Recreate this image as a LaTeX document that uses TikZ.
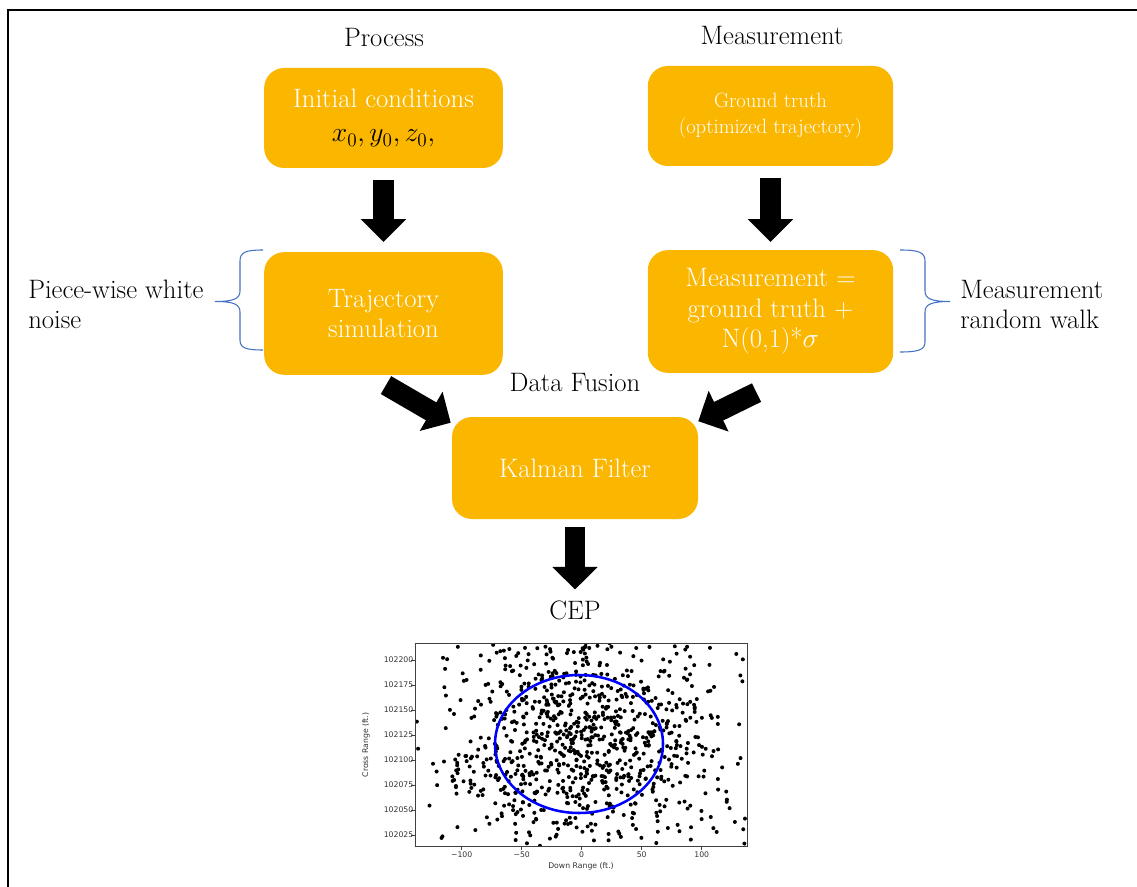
\documentclass[tikz,border=0pt]{standalone}
\usepackage{fontspec}
\newfontfamily\plotfont{DejaVu Sans}
\usetikzlibrary{arrows.meta}
\definecolor{boxgold}{RGB}{251,182,0}
\definecolor{bracecol}{RGB}{68,114,196}
\definecolor{cepblue}{RGB}{0,0,255}
\tikzset{
  box/.style = {rounded corners=15pt, fill=boxgold, text=white, align=center, inner sep=0pt, font=\fontsize{20}{23}\selectfont},
  lbl/.style = {inner sep=0pt, font=\fontsize{20}{23}\selectfont},
  side/.style = {lbl, align=left, anchor=west},
  fatarrow/.style = {line width=15.5pt, -{Triangle[length=17pt,width=33pt]}},
  bracket/.style = {draw=bracecol, line width=0.8pt},
  ticklbl/.style = {inner sep=1pt, text=black!80, font=\plotfont\fontsize{5.8}{7}\selectfont},
  sample/.style = {fill=black}
}

\begin{document}
\begin{tikzpicture}[x=0.75pt, y=-0.75pt]
\useasboundingbox (0,0) rectangle (1137,887);

% frame
\draw [line width=2.2pt] (8,887) -- (8,10) -- (1137,10);

\node [lbl] (process) at (384,38) {Process};
\node [lbl] (measure) at (772,36) {Measurement};

\node [box, minimum width=179pt, minimum height=75pt] (init) at (383.5,118)
  {Initial conditions\\[3pt] \textcolor{black}{$x_0, y_0, z_0,$}};
\node [box, minimum width=184pt, minimum height=75pt, font=\fontsize{15.5}{19.5}\selectfont] (truth) at (770.5,116)
  {Ground truth\\(optimized trajectory)};
\node [box, minimum width=179pt, minimum height=92pt] (traj) at (383.5,313.5)
  {Trajectory\\simulation};
\node [box, minimum width=184pt, minimum height=92pt] (meas) at (770.5,311.5)
  {Measurement =\\ground truth +\\N(0,1)*$\sigma$};
\node [box, minimum width=184.5pt, minimum height=76.5pt] (kalman) at (575,468) {Kalman Filter};

\node [lbl] (fusion) at (575,382) {Data Fusion};
\node [lbl] (cep) at (575,610) {CEP};

\node [side] (pwn) at (28,304.5) {Piece-wise white\\noise};
\node [side] (rw) at (960,304.5) {Measurement\\random walk};

% braces
\draw [bracket] (263,250) .. controls (246,250) and (240,252) .. (240,261) -- (240,291)
  .. controls (240,299) and (233,301.5) .. (215,301.5)
  .. controls (233,301.5) and (240,304) .. (240,312) -- (240,340)
  .. controls (240,348) and (246,350) .. (263,350);
\draw [bracket] (900,250) .. controls (918,250) and (925,252) .. (925,261) -- (925,291)
  .. controls (925,299) and (932,301.5) .. (950,301.5)
  .. controls (932,301.5) and (925,304) .. (925,312) -- (925,342)
  .. controls (925,350) and (918,352) .. (900,352);

% arrows
\draw [fatarrow, shorten <=9pt, shorten >=7.5pt] (init) -- (traj);
\draw [fatarrow, shorten <=9pt, shorten >=6pt] (truth) -- (meas);
\draw [fatarrow] ([shift={(2.5,10)}]traj.south) -- ([shift={(-1,6)}]kalman.north west);
\draw [fatarrow] ([shift={(-14,19.5)}]meas.south) -- ([shift={(0,4.5)}]kalman.north east);
\draw [fatarrow, shorten <=6pt, shorten >=8pt] (kalman) -- (cep);

% scatter plot
\begin{scope}
  \clip (415,643) rectangle (747,846);
  \pgfmathsetseed{4242}
  \foreach \i in {1,...,1000}{
    \pgfmathsetmacro\px{581.7+69.6*(rand+rand+rand)}
    \pgfmathsetmacro\py{742-58*(rand+rand+rand)}
    \fill [sample] (\px,\py) circle [radius=1.5pt];
  }
\end{scope}
\draw [cepblue, line width=1.9pt] (579,744) ellipse [x radius=63pt, y radius=51.75pt];
\draw [black!75, line width=0.6pt] (415,643) rectangle (747,846);

\foreach \y/\v in {660/102200, 685/102175, 710/102150, 735/102125, 760/102100, 785/102075, 810/102050, 835/102025}
  \draw [black!75, line width=0.5pt] (411,\y) -- (415,\y) node [ticklbl, anchor=east] {\v};
\foreach \x/\v in {461.7/−100, 521.7/−50, 581.7/0, 641.7/50, 701.7/100}
  \draw [black!75, line width=0.5pt] (\x,846) -- (\x,850) node [ticklbl, anchor=north] {\v};

\node [ticklbl] (xlab) at (581,866) {Down Range (ft.)};
\node [ticklbl, rotate=90] (ylab) at (366,745) {Cross Range (ft.)};
\end{tikzpicture}
\end{document}
